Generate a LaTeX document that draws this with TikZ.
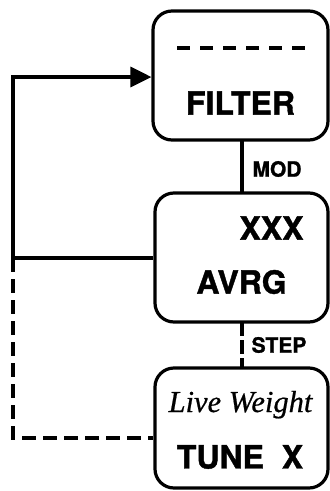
\documentclass[tikz,border=0pt]{standalone}
\usepackage{fontspec}
\usetikzlibrary{arrows.meta}
\newfontfamily\hvb{TeX Gyre Heros}[UprightFont=* Bold,FakeBold=1.2]
\newfontfamily\tmi{Liberation Serif}[UprightFont=* Italic,FakeBold=0.6]
\begin{document}
\begin{tikzpicture}[x=1pt,y=1pt,
  box/.style={draw,line width=3.2pt,rounded corners=19pt,inner sep=0pt},
  big/.style={inner sep=0pt,font=\hvb\fontsize{32}{32}\selectfont},
  small/.style={inner sep=0pt,font=\hvb\fontsize{21}{21}\selectfont},
  ital/.style={inner sep=0pt,anchor=base,font=\tmi\fontsize{30.5}{30.5}\selectfont},
  conn/.style={line width=3.2pt},
  dconn/.style={line width=3.2pt,dash pattern=on 14pt off 7pt}]
\useasboundingbox (0,0) rectangle (330,-491);
\node[box,minimum width=175pt,minimum height=129pt] (f) at (240.5,-75.5) {};
\node[box,minimum width=173pt,minimum height=129pt] (a) at (241.5,-257.5) {};
\node[box,minimum width=173pt,minimum height=120pt] (t) at (241.5,-428) {};
\draw[line width=4.5pt,dash pattern=on 13pt off 10pt] (177,-48) -- (305,-48);
\node[big] (ft) at (240.5,-103) {FILTER};
\node[big] (xt) at (271.5,-228) {XXX};
\node[big] (at) at (241.5,-282) {AVRG};
\node[ital] (lw) at (240.5,-412) {Live Weight};
\node[big] (tt) at (240,-457) {TUNE\ \ X};
\node[small] (mod) at (277,-169) {MOD};
\node[small] (step) at (279,-345) {STEP};
\coordinate (c1) at (13,-77);
\coordinate (c2) at (13,-258);
\coordinate (c3) at (13,-438);
\coordinate (m1) at (242,-140);
\coordinate (m2) at (242,-193);
\coordinate (s1) at (242,-322);
\coordinate (s2) at (242,-368);
\draw[conn] (m1) -- (m2);
\draw[conn,dash pattern=on 14pt off 4pt] (s1) -- (s2);
\draw[conn,-{Triangle[length=21pt,width=20pt]}] (c2) -- (c1) -- (c1 -| f.west);
\draw[conn] (c2) -- (c2 -| a.west);
\draw[dconn] (c2) -- (c3) -- (c3 -| t.west);
\end{tikzpicture}
\end{document}
